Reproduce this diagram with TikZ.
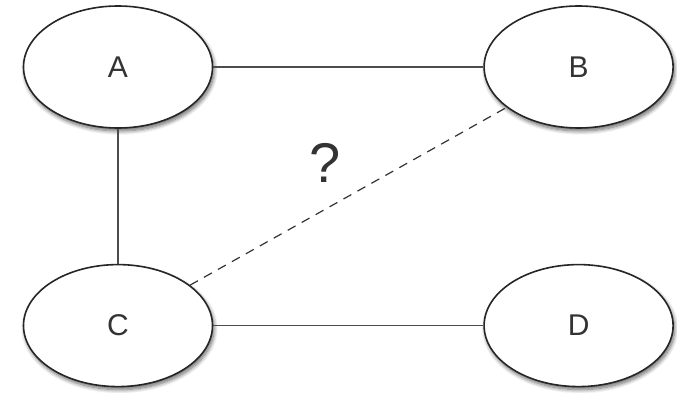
\documentclass[tikz,border=0pt]{standalone}
\usepackage{fontspec}
\setmainfont{Liberation Sans}
\usepackage{tikz}
\usetikzlibrary{positioning, shapes.geometric, shadows.blur}

\begin{document}
\begin{tikzpicture}[
        x=1pt, y=1pt,
        node distance = 135pt and 270pt,
        peer/.style  = {draw=black!85, ellipse, minimum width=189pt, minimum height=122pt, line width=1.6pt, fill=white, text=black!80, font=\fontsize{30}{36}\selectfont, inner sep=0pt, blur shadow={shadow xshift=1.5pt, shadow yshift=-3pt, shadow blur radius=4pt, shadow blur steps=8, shadow opacity=60}},
        link/.style  = {line width=1.2pt, draw=black!70},
        guess/.style = {link, draw=black!80, dash pattern=on 9pt off 7pt},
    ]
        \useasboundingbox (0,0) rectangle (677,-393);

        \node[peer] (A) at (118,-67) {A};
        \node[peer, right=of A] (B) {B};
        \node[peer, below=of A] (C) {C};
        \node[peer, right=of C] (D) {D};

        \draw[link] (A) -- (B);
        \draw[link] (A) -- (C);
        \draw[link] (C) -- (D);
        \draw[guess] (C) -- (B);

        \node[font=\fontsize{56}{60}\selectfont, text=black!80] (q) at (325,-163) {?};
    \end{tikzpicture}
\end{document}
